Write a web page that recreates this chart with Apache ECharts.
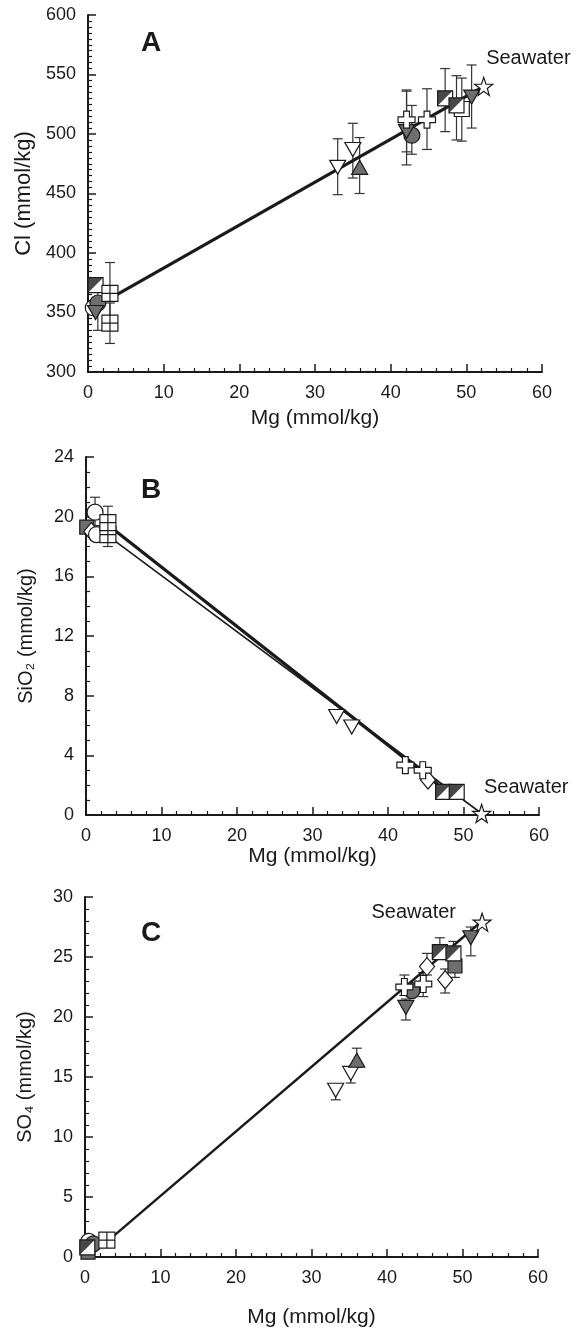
<!DOCTYPE html>
<html>
<head>
<meta charset="utf-8">
<script src="https://cdn.jsdelivr.net/npm/echarts@6/dist/echarts.min.js"></script>
<style>
  html, body { margin: 0; padding: 0; background: #fff; }
  #main { width: 578px; height: 1331px; }
</style>
</head>
<body>
<div id="main"></div>
<script>
// points are [Mg, value, errLow, errHigh] (error optional)
// panel A - Cl
var seaA = [[52.3, 540]];
var openCircleA = [[0.7, 354]];
var grayCircleA = [[1.3, 358, 335, 377], [42.8, 499, 483, 524]];
var gridA = [[2.9, 341, 324, 358], [2.9, 366, 345, 392]];
var openTriDownA = [[33.0, 472, 449, 496], [35.0, 487, 463, 509]];
var grayTriUpA = [[35.9, 472, 450, 497]];
var grayTriDownA = [[1.0, 350], [42.1, 502, 474, 537], [50.7, 531, 505, 558]];
var crossA = [[42.1, 512, 485, 536], [44.8, 512, 487, 538]];
var halfA = [[1.0, 373], [47.2, 530, 502, 555], [48.7, 524, 495, 549]];
var openSquareA = [[49.4, 521, 494, 547]];
var lineA = [[3.0, 362], [52.3, 540]];

// panel B - SiO2
var seaB = [[52.4, 0.1]];
var openCircleB = [[1.2, 20.3, 19.4, 21.3], [1.4, 18.8]];
var graySquareB = [[0.1, 19.3]];
var gridB = [[2.9, 18.8], [2.9, 19.6, 18.0, 20.7]];
var openDiamondB = [[0.7, 19.0], [45.3, 2.35]];
var openTriDownB = [[33.2, 6.6], [35.2, 5.9]];
var crossB = [[42.3, 3.35], [44.6, 3.0]];
var halfB = [[47.3, 1.55], [49.1, 1.55]];
var lineB1 = [[3.5, 19.2], [48.0, 1.5]];
var lineB2 = [[3.5, 18.5], [52.4, 0.1]];

// panel C - SO4
var seaC = [[52.6, 27.9]];
var openTriDownC = [[33.2, 13.9, 13.1, 14.2], [35.2, 15.3, 14.5, 15.8]];
var grayTriUpC = [[36.0, 16.4, 15.8, 17.4]];
var grayTriDownC = [[42.5, 20.8, 19.75, 21.5], [51.1, 26.6, 25.1, 27.5]];
var grayCircleC = [[1.1, 1.1], [43.3, 22.2]];
var crossC = [[42.3, 22.5, 21.8, 23.5], [44.8, 22.75, 21.7, 23.7]];
var openDiamondC = [[45.3, 24.2, 23.5, 25.3], [47.7, 23.1, 22.0, 24.0]];
var graySquareC = [[0.4, 0.4], [49.0, 24.25, 23.3, 25.0]];
var halfC = [[0.3, 0.8], [47.0, 25.4, 24.8, 26.6], [48.8, 25.3, 24.6, 26.3]];
var gridC = [[2.9, 1.4]];
var openCircleC = [[0.5, 1.3]];
var lineC = [[3.5, 1.6], [52.6, 28.0]];

var FONT = 'Liberation Sans, Arial, sans-serif';
var INK = '#1a1a1a';
var GRAY = '#6e6e6e';

var SYM = {
  circle: { symbol: 'circle', size: 16, fill: '#fff' },
  grayCircle: { symbol: 'circle', size: 16, fill: GRAY },
  square: { symbol: 'rect', size: 15, fill: '#fff' },
  graySquare: { symbol: 'rect', size: 14, fill: GRAY },
  grid: { symbol: 'path://M0,0 H10 V10 H0 Z M5,0 V10 M0,5 H10', size: 16, fill: '#fff' },
  triUp: { symbol: 'path://M5,0 L10,9 L0,9 Z', size: [16, 14], fill: GRAY },
  triDown: { symbol: 'path://M0,0 L10,0 L5,9 Z', size: [16, 14], fill: '#fff' },
  grayTriDown: { symbol: 'path://M0,0 L10,0 L5,9 Z', size: [16, 14], fill: GRAY },
  diamond: { symbol: 'diamond', size: [15, 18], fill: '#fff' },
  cross: { symbol: 'path://M3.3,0 H6.7 V3.3 H10 V6.7 H6.7 V10 H3.3 V6.7 H0 V3.3 H3.3 Z', size: 17, fill: '#fff' },
  star: { symbol: 'path://M5,0 L6.18,3.45 L9.76,3.45 L6.9,5.6 L7.94,9.05 L5,7 L2.06,9.05 L3.1,5.6 L0.24,3.45 L3.82,3.45 Z', size: 18, fill: '#fff' },
  halfTop: { symbol: 'path://M0,0 H10 L0,10 Z', size: 15, fill: INK }
};

var series = [];

function renderErr(params, api) {
  if (isNaN(api.value(2))) return;
  var lo = api.coord([api.value(0), api.value(2)]);
  var hi = api.coord([api.value(0), api.value(3)]);
  var w = 5;
  var st = { stroke: '#333', lineWidth: 1.2 };
  return {
    type: 'group',
    children: [
      { type: 'line', shape: { x1: lo[0], y1: lo[1], x2: hi[0], y2: hi[1] }, style: st },
      { type: 'line', shape: { x1: lo[0] - w, y1: lo[1], x2: lo[0] + w, y2: lo[1] }, style: st },
      { type: 'line', shape: { x1: hi[0] - w, y1: hi[1], x2: hi[0] + w, y2: hi[1] }, style: st }
    ]
  };
}

function addPoints(gi, data, kind, label) {
  var withErr = data.filter(function (d) { return d.length > 2; });
  if (withErr.length) {
    series.push({
      type: 'custom', xAxisIndex: gi, yAxisIndex: gi, z: 1, silent: true,
      renderItem: renderErr, data: withErr, encode: { x: 0, y: [1, 2, 3] }
    });
  }
  var k = SYM[kind];
  var s = {
    type: 'scatter', xAxisIndex: gi, yAxisIndex: gi, z: 3,
    symbol: k.symbol, symbolSize: k.size,
    itemStyle: { color: k.fill, borderColor: INK, borderWidth: 1.2, opacity: 1 },
    data: data.map(function (d) { return [d[0], d[1]]; })
  };
  if (label) s.label = label;
  series.push(s);
}

function addHalf(gi, data) {
  addPoints(gi, data, 'square');
  series.push({
    type: 'scatter', xAxisIndex: gi, yAxisIndex: gi, z: 4,
    symbol: SYM.halfTop.symbol, symbolSize: SYM.halfTop.size,
    itemStyle: { color: INK },
    data: data.map(function (d) { return [d[0], d[1]]; })
  });
}

function addLine(gi, data, width) {
  series.push({
    type: 'line', xAxisIndex: gi, yAxisIndex: gi, z: 2, symbol: 'none',
    lineStyle: { color: INK, width: width }, data: data
  });
}

function seaLabel(pos) {
  return {
    show: true, formatter: 'Seawater', position: pos, align: 'left', verticalAlign: 'middle',
    fontFamily: FONT, fontSize: 20, color: INK
  };
}

// panel A
addLine(0, lineA, 3.2);
addPoints(0, openCircleA, 'circle');
addPoints(0, grayCircleA, 'grayCircle');
addPoints(0, grayTriDownA, 'grayTriDown');
addPoints(0, openTriDownA, 'triDown');
addPoints(0, grayTriUpA, 'triUp');
addPoints(0, crossA, 'cross');
addPoints(0, openSquareA, 'square');
addHalf(0, halfA);
addPoints(0, gridA, 'grid');
addPoints(0, seaA, 'star', seaLabel([12, -18]));

// panel B
addLine(1, lineB2, 1.6);
addLine(1, lineB1, 3.2);
addPoints(1, graySquareB, 'graySquare');
addPoints(1, openDiamondB, 'diamond');
addPoints(1, openCircleB, 'circle');
addPoints(1, openTriDownB, 'triDown');
addPoints(1, crossB, 'cross');
addHalf(1, halfB);
addPoints(1, gridB, 'grid');
addPoints(1, seaB, 'star', seaLabel([12, -16]));

// panel C
addLine(2, lineC, 2.4);
addPoints(2, graySquareC, 'graySquare');
addPoints(2, openCircleC, 'circle');
addPoints(2, grayCircleC, 'grayCircle');
addPoints(2, openTriDownC, 'triDown');
addPoints(2, grayTriUpC, 'triUp');
addPoints(2, grayTriDownC, 'grayTriDown');
addPoints(2, openDiamondC, 'diamond');
addHalf(2, halfC);
addPoints(2, crossC, 'cross');
addPoints(2, gridC, 'grid');
addPoints(2, seaC, 'star', seaLabel([-101, 0]));

function xAx(gi, gap) {
  return {
    gridIndex: gi, type: 'value', min: 0, max: 60, interval: 10,
    name: 'Mg (mmol/kg)', nameLocation: 'middle', nameGap: gap,
    nameTextStyle: { fontFamily: FONT, fontSize: 21, color: INK },
    axisLine: { show: true, onZero: false, lineStyle: { color: INK, width: 2 } },
    axisTick: { show: true, inside: true, length: 8, lineStyle: { color: INK, width: 1.5 } },
    minorTick: { show: true, splitNumber: 5, length: 4, lineStyle: { color: INK, width: 1.2 } },
    splitLine: { show: false },
    axisLabel: { fontFamily: FONT, fontSize: 18, color: INK, margin: 12 }
  };
}

function yAx(gi, name, min, max, step, minor, nameSize) {
  return {
    gridIndex: gi, type: 'value', min: min, max: max, interval: step,
    name: name, nameLocation: 'middle', nameGap: 50,
    nameTextStyle: { fontFamily: FONT, fontSize: nameSize, color: INK },
    axisLine: { show: true, onZero: false, lineStyle: { color: INK, width: 2 } },
    axisTick: { show: true, inside: true, length: 8, lineStyle: { color: INK, width: 1.5 } },
    minorTick: { show: true, splitNumber: minor, length: 4, lineStyle: { color: INK, width: 1.2 } },
    splitLine: { show: false },
    axisLabel: { fontFamily: FONT, fontSize: 18, color: INK, margin: 12 }
  };
}

var chart = echarts.init(document.getElementById('main'), null, { renderer: 'canvas' });
chart.setOption({
  backgroundColor: '#fff',
  animation: false,
  grid: [
    { left: 88, top: 15, width: 454, height: 357 },
    { left: 86, top: 457, width: 453, height: 358 },
    { left: 85, top: 897, width: 453, height: 360 }
  ],
  xAxis: [xAx(0, 36), xAx(1, 31), xAx(2, 50)],
  yAxis: [
    yAx(0, 'Cl (mmol/kg)', 300, 600, 50, 10, 22),
    yAx(1, 'SiO\u2082 (mmol/kg)', 0, 24, 4, 4, 20),
    yAx(2, 'SO\u2084 (mmol/kg)', 0, 30, 5, 5, 20)
  ],
  graphic: [
    { type: 'text', left: 141, top: 29, style: { text: 'A', font: 'bold 28px ' + FONT, fill: INK } },
    { type: 'text', left: 141, top: 476, style: { text: 'B', font: 'bold 28px ' + FONT, fill: INK } },
    { type: 'text', left: 141, top: 919, style: { text: 'C', font: 'bold 28px ' + FONT, fill: INK } }
  ],
  series: series
});
</script>
</body>
</html>
